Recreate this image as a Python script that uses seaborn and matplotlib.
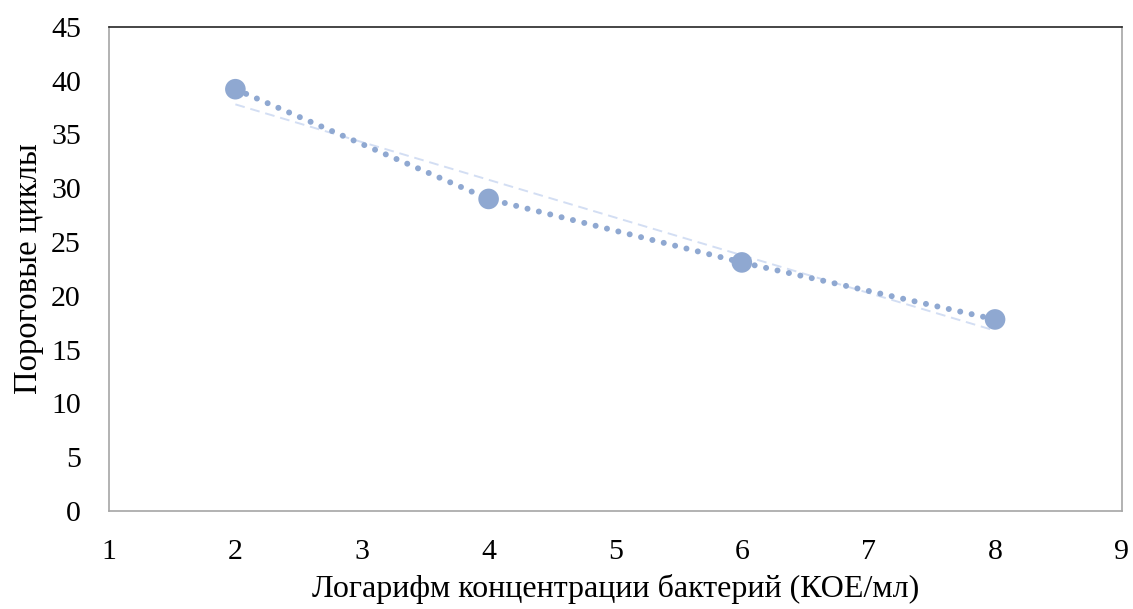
import pandas as pd
import matplotlib
matplotlib.use("Agg")
import matplotlib.pyplot as plt
import seaborn as sns

# данные графика
log_conc = [2, 4, 6, 8]
ct_values = [39.2, 29.0, 23.1, 17.8]
x_ticks = [1, 2, 3, 4, 5, 6, 7, 8, 9]
y_ticks = [0, 5, 10, 15, 20, 25, 30, 35, 40, 45]

df = pd.DataFrame({"x": log_conc, "y": ct_values})

sns.set_style("white")
plt.rcParams["font.family"] = ["Liberation Serif", "DejaVu Serif"]
plt.rcParams["text.color"] = "black"
plt.rcParams["xtick.color"] = "black"
plt.rcParams["ytick.color"] = "black"
plt.rcParams["axes.labelcolor"] = "black"

point_color = "#8fa8d1"

fig = plt.figure(figsize=(11.33, 6.09), dpi=100)
ax = fig.add_axes([0.096, 0.161, 0.894, 0.795])

# линия тренда (линейная)
sns.regplot(x="x", y="y", data=df, scatter=False, ci=None, ax=ax,
            line_kws={"color": "#d3def3", "lw": 1.4, "ls": (0, (5, 3)), "zorder": 2})

# точечная линия через точки
sns.lineplot(x="x", y="y", data=df, ax=ax, color=point_color, lw=4.3,
             ls=(0, (0.01, 1.95)), zorder=3)
ax.lines[-1].set_dash_capstyle("round")

sns.scatterplot(x="x", y="y", data=df, ax=ax, s=220, color=point_color,
                edgecolor="none", zorder=4)

ax.set_xlim(1, 9)
ax.set_ylim(0, 45)
ax.set_xticks(x_ticks)
ax.set_yticks(y_ticks)
ax.tick_params(axis="both", labelsize=21.5, length=0)
ax.tick_params(axis="x", pad=20)
ax.tick_params(axis="y", pad=20)

for name, s in ax.spines.items():
    s.set_color("#a6a6a6")
    s.set_linewidth(1.2)
ax.spines["top"].set_color("#262626")

ax.set_xlabel("Логарифм концентрации бактерий (КОЕ/мл)", fontsize=23, labelpad=7)
ax.set_ylabel("Пороговые циклы", fontsize=23.5, labelpad=5)

fig.savefig("out.png", dpi=100)
